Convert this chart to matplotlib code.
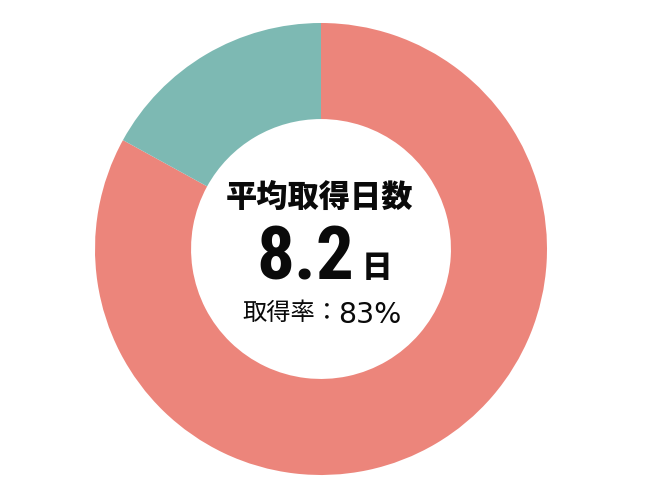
import matplotlib
matplotlib.use("Agg")
import matplotlib.pyplot as plt
import logging
logging.getLogger("matplotlib.font_manager").setLevel(logging.ERROR)

labels = ["取得", "未取得"]
values = [83, 17]
colors = ["#EC857B", "#7DB9B3"]
title_text = "平均取得日数"
value_text = "8.2"
unit_text = "日"
rate_label = "取得率："
rate_value = "83%"

fig = plt.figure(figsize=(6.5, 5), dpi=100)
ax = fig.add_axes([0, 0, 1, 1])
cx, cy, R = 321, 249, 226

ax.pie(values, colors=colors, startangle=90, counterclock=False, radius=1.0,
       wedgeprops=dict(width=0.425, edgecolor="none"), frame=False)
ax.set_xlim(-cx / R, (650 - cx) / R)
ax.set_ylim(-(500 - cy) / R, cy / R)
ax.set_aspect("auto")
ax.axis("off")

def px(x):
    return (x - cx) / R

def py(y):
    return (cy - y) / R

cjk = ["Noto Sans CJK JP", "DejaVu Sans"]
cond = ["Roboto Condensed", "Archivo Narrow", "Saira SemiCondensed", "DejaVu Sans"]
ink = "#0a0a0a"
ax.text(px(319), py(197), title_text, ha="center", va="center", fontsize=22.5,
        fontweight=900, family=cjk, color=ink)
ax.text(px(354), py(280), value_text, ha="right", va="baseline", fontsize=54,
        fontweight="bold", family=cond, color=ink)
ax.text(px(362), py(277), unit_text, ha="left", va="baseline", fontsize=22,
        fontweight=900, family=cjk, color=ink)
ax.text(px(339), py(313), rate_label, ha="right", va="center", fontsize=17.5,
        family=cjk, color=ink)
ax.text(px(338), py(323), rate_value, ha="left", va="baseline", fontsize=20.5,
        family=["DejaVu Sans"], color=ink)

fig.savefig("out.png", dpi=100)
